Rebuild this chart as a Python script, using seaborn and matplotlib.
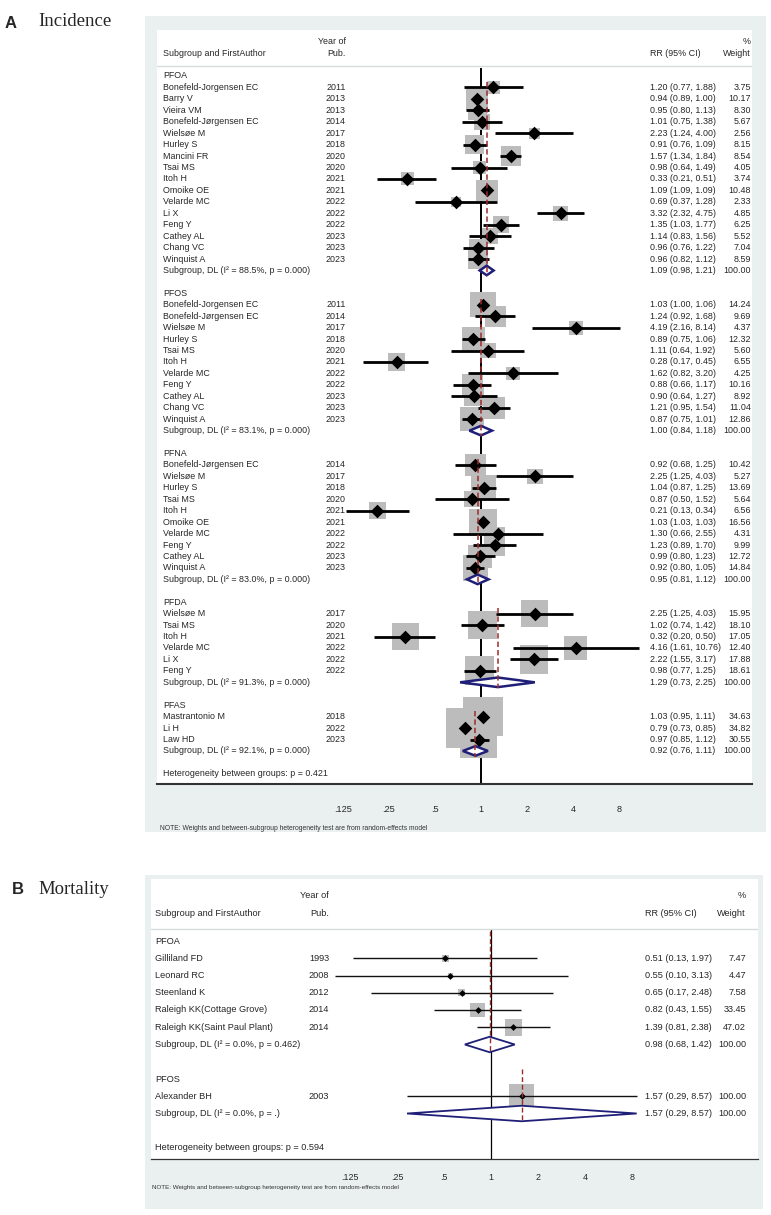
import numpy as np
import pandas as pd
import matplotlib
matplotlib.use('Agg')
import matplotlib.pyplot as plt
from matplotlib.patches import Rectangle, Polygon
from matplotlib.ticker import NullLocator
import seaborn as sns

sns.set_style('white')
plt.rcParams['font.family'] = ['Liberation Sans', 'DejaVu Sans']

# ---------------- panel A: incidence ----------------
pfoa_author = ['Bonefeld-Jorgensen EC', 'Barry V', 'Vieira VM', 'Bonefeld-Jørgensen EC', 'Wielsøe M',
               'Hurley S', 'Mancini FR', 'Tsai MS', 'Itoh H', 'Omoike OE', 'Velarde MC', 'Li X',
               'Feng Y', 'Cathey AL', 'Chang VC', 'Winquist A']
pfoa_year = [2011, 2013, 2013, 2014, 2017, 2018, 2020, 2020, 2021, 2021, 2022, 2022, 2022, 2023, 2023, 2023]
pfoa_rr = [1.20, 0.94, 0.95, 1.01, 2.23, 0.91, 1.57, 0.98, 0.33, 1.09, 0.69, 3.32, 1.35, 1.14, 0.96, 0.96]
pfoa_lo = [0.77, 0.89, 0.80, 0.75, 1.24, 0.76, 1.34, 0.64, 0.21, 1.09, 0.37, 2.32, 1.03, 0.83, 0.76, 0.82]
pfoa_hi = [1.88, 1.00, 1.13, 1.38, 4.00, 1.09, 1.84, 1.49, 0.51, 1.09, 1.28, 4.75, 1.77, 1.56, 1.22, 1.12]
pfoa_wt = [3.75, 10.17, 8.30, 5.67, 2.56, 8.15, 8.54, 4.05, 3.74, 10.48, 2.33, 4.85, 6.25, 5.52, 7.04, 8.59]
pfoa_pool = [1.09, 0.98, 1.21]
pfoa_het = ['88.5%', '0.000']

pfos_author = ['Bonefeld-Jorgensen EC', 'Bonefeld-Jørgensen EC', 'Wielsøe M', 'Hurley S', 'Tsai MS',
               'Itoh H', 'Velarde MC', 'Feng Y', 'Cathey AL', 'Chang VC', 'Winquist A']
pfos_year = [2011, 2014, 2017, 2018, 2020, 2021, 2022, 2022, 2023, 2023, 2023]
pfos_rr = [1.03, 1.24, 4.19, 0.89, 1.11, 0.28, 1.62, 0.88, 0.90, 1.21, 0.87]
pfos_lo = [1.00, 0.92, 2.16, 0.75, 0.64, 0.17, 0.82, 0.66, 0.64, 0.95, 0.75]
pfos_hi = [1.06, 1.68, 8.14, 1.06, 1.92, 0.45, 3.20, 1.17, 1.27, 1.54, 1.01]
pfos_wt = [14.24, 9.69, 4.37, 12.32, 5.60, 6.55, 4.25, 10.16, 8.92, 11.04, 12.86]
pfos_pool = [1.00, 0.84, 1.18]
pfos_het = ['83.1%', '0.000']

pfna_author = ['Bonefeld-Jørgensen EC', 'Wielsøe M', 'Hurley S', 'Tsai MS', 'Itoh H', 'Omoike OE',
               'Velarde MC', 'Feng Y', 'Cathey AL', 'Winquist A']
pfna_year = [2014, 2017, 2018, 2020, 2021, 2021, 2022, 2022, 2023, 2023]
pfna_rr = [0.92, 2.25, 1.04, 0.87, 0.21, 1.03, 1.30, 1.23, 0.99, 0.92]
pfna_lo = [0.68, 1.25, 0.87, 0.50, 0.13, 1.03, 0.66, 0.89, 0.80, 0.80]
pfna_hi = [1.25, 4.03, 1.25, 1.52, 0.34, 1.03, 2.55, 1.70, 1.23, 1.05]
pfna_wt = [10.42, 5.27, 13.69, 5.64, 6.56, 16.56, 4.31, 9.99, 12.72, 14.84]
pfna_pool = [0.95, 0.81, 1.12]
pfna_het = ['83.0%', '0.000']

pfda_author = ['Wielsøe M', 'Tsai MS', 'Itoh H', 'Velarde MC', 'Li X', 'Feng Y']
pfda_year = [2017, 2020, 2021, 2022, 2022, 2022]
pfda_rr = [2.25, 1.02, 0.32, 4.16, 2.22, 0.98]
pfda_lo = [1.25, 0.74, 0.20, 1.61, 1.55, 0.77]
pfda_hi = [4.03, 1.42, 0.50, 10.76, 3.17, 1.25]
pfda_wt = [15.95, 18.10, 17.05, 12.40, 17.88, 18.61]
pfda_pool = [1.29, 0.73, 2.25]
pfda_het = ['91.3%', '0.000']

pfas_author = ['Mastrantonio M', 'Li H', 'Law HD']
pfas_year = [2018, 2022, 2023]
pfas_rr = [1.03, 0.79, 0.97]
pfas_lo = [0.95, 0.73, 0.85]
pfas_hi = [1.11, 0.85, 1.12]
pfas_wt = [34.63, 34.82, 30.55]
pfas_pool = [0.92, 0.76, 1.11]
pfas_het = ['92.1%', '0.000']

inc_between_p = '0.421'

# ---------------- panel B: mortality ----------------
mpfoa_author = ['Gilliland FD', 'Leonard RC', 'Steenland K', 'Raleigh KK(Cottage Grove)',
                'Raleigh KK(Saint Paul Plant)']
mpfoa_year = [1993, 2008, 2012, 2014, 2014]
mpfoa_rr = [0.51, 0.55, 0.65, 0.82, 1.39]
mpfoa_lo = [0.13, 0.10, 0.17, 0.43, 0.81]
mpfoa_hi = [1.97, 3.13, 2.48, 1.55, 2.38]
mpfoa_wt = [7.47, 4.47, 7.58, 33.45, 47.02]
mpfoa_pool = [0.98, 0.68, 1.42]
mpfoa_het = ['0.0%', '0.462']

mpfos_author = ['Alexander BH']
mpfos_year = [2003]
mpfos_rr = [1.57]
mpfos_lo = [0.29]
mpfos_hi = [8.57]
mpfos_wt = [100.00]
mpfos_pool = [1.57, 0.29, 8.57]
mpfos_het = ['0.0%', '.']

mort_between_p = '0.594'

tick_vals = [0.125, 0.25, 0.5, 1, 2, 4, 8]
tick_labels = ['.125', '.25', '.5', '1', '2', '4', '8']

W, H = 771, 1215
BG = '#eaf0f0'
BOX = '#bcbcbc'
NAVY = '#1f1f78'
RED = '#9e2a2b'
NOTE = 'NOTE: Weights and between-subgroup heterogeneity test are from random-effects model'


def make_group(name, author, year, rr, lo, hi, wt, pool, het):
    return dict(name=name, author=author, year=year, rr=rr, lo=lo, hi=hi, wt=wt, pool=pool, het=het)


def fig_rect(x0, y0, x1, y1):
    return [x0 / W, 1 - y1 / H, (x1 - x0) / W, (y1 - y0) / H]


def forest(fig, groups, between_p, g):
    bx0, by0, bx1, by1 = g['box']
    fig.add_artist(Rectangle((bx0 / W, 1 - by1 / H), (bx1 - bx0) / W, (by1 - by0) / H,
                             transform=fig.transFigure, facecolor=BG, edgecolor='none', zorder=0))
    L, T, R, B = g['plot']
    ax = fig.add_axes(fig_rect(L, T, R, B))
    ax.set_facecolor('white')
    ax.set_xscale('log', base=2)
    row0, step = g['row0'], g['step']
    to_row = lambda py: (py - row0) / step
    to_ax = lambda px: (px - L) / (R - L)
    yt = ax.get_yaxis_transform()
    fs = g['fs']

    # header
    ax.text(to_ax(g['x_auth']), to_row(g['hdr2']), 'Subgroup and FirstAuthor', transform=yt, fontsize=fs, va='center')
    ax.text(to_ax(g['x_year']), to_row(g['hdr1']), 'Year of', transform=yt, fontsize=fs, va='center', ha='right')
    ax.text(to_ax(g['x_year']), to_row(g['hdr2']), 'Pub.', transform=yt, fontsize=fs, va='center', ha='right')
    ax.text(to_ax(g['x_rr']), to_row(g['hdr2']), 'RR (95% CI)', transform=yt, fontsize=fs, va='center')
    ax.text(to_ax(g['x_wt']), to_row(g['hdr1']), '%', transform=yt, fontsize=fs, va='center', ha='right')
    ax.text(to_ax(g['x_wt']), to_row(g['hdr2']), 'Weight', transform=yt, fontsize=fs, va='center', ha='right')
    ax.axhline(to_row(g['hline']), color='#d5dcdc', lw=1)

    rows = []
    r = 0
    for grp in groups:
        ax.text(to_ax(g['x_auth']), r, grp['name'], transform=yt, fontsize=fs, va='center')
        n = len(grp['rr'])
        for i in range(n):
            rr_i = r + 1 + i
            rows.append(dict(row=rr_i, rr=grp['rr'][i], lo=grp['lo'][i], hi=grp['hi'][i], wt=grp['wt'][i]))
            ax.text(to_ax(g['x_auth']), rr_i, grp['author'][i], transform=yt, fontsize=fs, va='center')
            ax.text(to_ax(g['x_year']), rr_i, str(grp['year'][i]), transform=yt, fontsize=fs, va='center', ha='right')
            ax.text(to_ax(g['x_rr']), rr_i, f"{grp['rr'][i]:.2f} ({grp['lo'][i]:.2f}, {grp['hi'][i]:.2f})",
                    transform=yt, fontsize=fs, va='center')
            ax.text(to_ax(g['x_wt']), rr_i, f"{grp['wt'][i]:.2f}", transform=yt, fontsize=fs, va='center', ha='right')
        sub = r + n + 1
        est, plo, phi = grp['pool']
        ax.text(to_ax(g['x_auth']), sub, f"Subgroup, DL (I\u00b2 = {grp['het'][0]}, p = {grp['het'][1]})",
                transform=yt, fontsize=fs, va='center')
        ax.text(to_ax(g['x_rr']), sub, f"{est:.2f} ({plo:.2f}, {phi:.2f})", transform=yt, fontsize=fs, va='center')
        ax.text(to_ax(g['x_wt']), sub, '100.00', transform=yt, fontsize=fs, va='center', ha='right')
        h = g['dia_h']
        ax.add_patch(Polygon([(plo, sub), (est, sub - h), (phi, sub), (est, sub + h)], closed=True,
                             facecolor='white', edgecolor=NAVY, lw=g['dia_lw'], zorder=5))
        ax.vlines(est, r + g['red_top'], sub + 0.5, colors=RED, linestyles=(0, (3.5, 2)), lw=g['red_lw'], zorder=6)
        r = sub + 2
    ax.text(to_ax(g['x_auth']), r, f'Heterogeneity between groups: p = {between_p}', transform=yt,
            fontsize=fs, va='center')

    df = pd.DataFrame(rows)
    smax = (g['k'] * 10 * 0.72) ** 2
    sns.scatterplot(data=df, x='rr', y='row', size='wt', sizes=(0, smax), size_norm=(0, 100), marker='s',
                    color=BOX, linewidth=0, legend=False, ax=ax, zorder=2)
    ax.hlines(df['row'], df['lo'], df['hi'], colors=g['ci_col'], lw=g['ci_lw'], zorder=3)
    sns.scatterplot(data=df, x='rr', y='row', marker='D', color='black', s=g['pt_s'], linewidth=0,
                    legend=False, ax=ax, zorder=4)

    ylo, yhi = to_row(B), to_row(T)
    ax.vlines(1, to_row(g['null_top']), ylo, colors='black', lw=g['null_lw'], zorder=1)

    ax.set_xlim(2 ** ((L - g['x1']) / g['dbl']), 2 ** ((R - g['x1']) / g['dbl']))
    ax.set_ylim(ylo, yhi)
    ax.set_xticks(tick_vals)
    ax.set_xticklabels(tick_labels)
    ax.xaxis.set_minor_locator(NullLocator())
    ax.set_yticks([])
    ax.set_xlabel('')
    ax.set_ylabel('')
    for s in ['top', 'left', 'right']:
        ax.spines[s].set_visible(False)
    ax.spines['bottom'].set_color('#333333')
    ax.spines['bottom'].set_linewidth(g['ax_lw'])
    ax.tick_params(axis='x', which='major', direction='out', length=g['tick_len'], width=g['ax_lw'],
                   color='#222222', pad=g['tick_pad'], labelsize=g['tick_fs'])
    fig.text(g['x_auth'] / W - 0.004, 1 - g['note_y'] / H, NOTE, fontsize=g['note_fs'], va='center',
             color='#333333')
    return ax


fig = plt.figure(figsize=(W / 100, H / 100), dpi=100)
fig.patch.set_facecolor('white')

groups_a = [make_group('PFOA', pfoa_author, pfoa_year, pfoa_rr, pfoa_lo, pfoa_hi, pfoa_wt, pfoa_pool, pfoa_het),
            make_group('PFOS', pfos_author, pfos_year, pfos_rr, pfos_lo, pfos_hi, pfos_wt, pfos_pool, pfos_het),
            make_group('PFNA', pfna_author, pfna_year, pfna_rr, pfna_lo, pfna_hi, pfna_wt, pfna_pool, pfna_het),
            make_group('PFDA', pfda_author, pfda_year, pfda_rr, pfda_lo, pfda_hi, pfda_wt, pfda_pool, pfda_het),
            make_group('PFAS', pfas_author, pfas_year, pfas_rr, pfas_lo, pfas_hi, pfas_wt, pfas_pool, pfas_het)]

geo_a = dict(box=(145, 16, 766, 832), plot=(157, 30, 752, 784), row0=76, step=11.44,
             x1=481, dbl=46, x_auth=163, x_year=346, x_rr=650, x_wt=751,
             hdr1=42, hdr2=54, hline=66, fs=6.4, k=6.7, pt_s=48, ci_lw=2.0, ci_col='black',
             dia_h=0.42, dia_lw=1.8, red_top=0.5, red_lw=1.1, null_top=68, null_lw=1.4,
             ax_lw=1.5, tick_len=10, tick_pad=5, tick_fs=6.6, note_y=828, note_fs=4.9)
forest(fig, groups_a, inc_between_p, geo_a)

groups_b = [make_group('PFOA', mpfoa_author, mpfoa_year, mpfoa_rr, mpfoa_lo, mpfoa_hi, mpfoa_wt, mpfoa_pool, mpfoa_het),
            make_group('PFOS', mpfos_author, mpfos_year, mpfos_rr, mpfos_lo, mpfos_hi, mpfos_wt, mpfos_pool, mpfos_het)]

geo_b = dict(box=(145, 875, 763, 1209), plot=(151, 879, 758, 1159), row0=941, step=17.25,
             x1=491, dbl=47, x_auth=155, x_year=329, x_rr=645, x_wt=746,
             hdr1=895, hdr2=913, hline=929, fs=6.6, k=2.5, pt_s=12, ci_lw=1.0, ci_col='#111111',
             dia_h=0.45, dia_lw=1.3, red_top=-0.6, red_lw=1.0, null_top=929, null_lw=0.9,
             ax_lw=0.9, tick_len=6, tick_pad=4, tick_fs=6.4, note_y=1188, note_fs=4.5)
forest(fig, groups_b, mort_between_p, geo_b)

fig.text(11 / W, 1 - 23 / H, 'A', fontsize=12, fontweight='bold', ha='center', va='center')
fig.text(38 / W, 1 - 22 / H, 'Incidence', fontsize=13.5, family='Liberation Serif', va='center')
fig.text(18 / W, 1 - 890 / H, 'B', fontsize=12, fontweight='bold', ha='center', va='center')
fig.text(38 / W, 1 - 889 / H, 'Mortality', fontsize=13.5, family='Liberation Serif', va='center')

fig.savefig('out.png', dpi=100)
